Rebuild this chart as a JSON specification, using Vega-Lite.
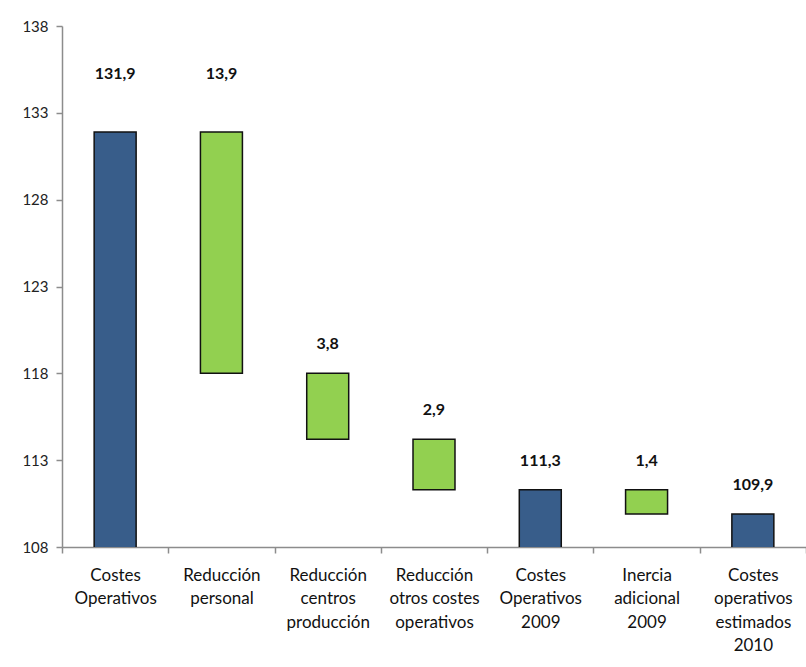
{
  "$schema": "https://vega.github.io/schema/vega-lite/v6.json",
  "width": 744,
  "height": 521,
  "autosize": {"type": "none"},
  "padding": {"left": 62, "top": 26, "right": 0, "bottom": 120},
  "background": "white",
  "config": {
    "view": {"stroke": null},
    "font": "Lato",
    "locale": {"number": {"decimal": ",", "thousands": ".", "grouping": [3], "currency": ["", " €"]}}
  },
  "data": {
    "values": [
      {"cat": "Costes Operativos", "low": 0, "high": 131.9, "amount": 131.9, "kind": "total"},
      {"cat": "Reducción personal", "low": 118.0, "high": 131.9, "amount": 13.9, "kind": "change"},
      {"cat": "Reducción centros producción", "low": 114.2, "high": 118.0, "amount": 3.8, "kind": "change"},
      {"cat": "Reducción otros costes operativos", "low": 111.3, "high": 114.2, "amount": 2.9, "kind": "change"},
      {"cat": "Costes Operativos 2009", "low": 0, "high": 111.3, "amount": 111.3, "kind": "total"},
      {"cat": "Inercia adicional 2009", "low": 109.9, "high": 111.3, "amount": 1.4, "kind": "change"},
      {"cat": "Costes operativos estimados 2010", "low": 0, "high": 109.9, "amount": 109.9, "kind": "total"}
    ]
  },
  "encoding": {
    "x": {
      "field": "cat",
      "type": "nominal",
      "sort": null,
      "scale": {"paddingInner": 0, "paddingOuter": 0},
      "axis": {
        "title": null,
        "labelAngle": 0,
        "labelFont": "Lato",
        "labelFontSize": 17,
        "labelColor": "#111111",
        "labelLineHeight": 23.5,
        "labelPadding": 14,
        "labelBaseline": "top",
        "labelExpr": "datum.value == null ? '' : (datum.value == 'Reducción otros costes operativos' ? ['Reducción', 'otros costes', 'operativos'] : split(datum.value, ' '))",
        "tickBand": "extent",
        "tickSize": 6,
        "tickColor": "#8c8c8c",
        "tickWidth": 1.5,
        "domainColor": "#8c8c8c",
        "domainWidth": 1.5,
        "labelLimit": 200
      }
    }
  },
  "layer": [
    {
      "mark": {"type": "bar", "clip": true, "stroke": "#111111", "strokeWidth": 1.5, "width": {"band": 0.395}},
      "encoding": {
        "y": {
          "field": "low",
          "type": "quantitative",
          "scale": {"domain": [108, 138], "nice": false, "zero": false},
          "axis": {
            "title": null,
            "values": [108, 113, 118, 123, 128, 133, 138],
            "grid": false,
            "labelFont": "Lato",
            "labelFontSize": 15,
            "labelColor": "#222222",
            "labelPadding": 8,
            "tickSize": 6,
            "tickColor": "#8c8c8c",
            "tickWidth": 1.5,
            "domainColor": "#8c8c8c",
            "domainWidth": 1.5
          }
        },
        "y2": {"field": "high"},
        "color": {
          "field": "kind",
          "type": "nominal",
          "scale": {"domain": ["total", "change"], "range": ["#385D8A", "#92D050"]},
          "legend": null
        }
      }
    },
    {
      "transform": [{"filter": "datum.high > 130"}],
      "mark": {"type": "text", "fontWeight": "bold", "fontSize": 16, "font": "Lato", "color": "#111111", "baseline": "middle", "dy": -58},
      "encoding": {
        "y": {"field": "high", "type": "quantitative"},
        "text": {"field": "amount", "type": "quantitative", "format": ".1f"}
      }
    },
    {
      "transform": [{"filter": "datum.high <= 130"}],
      "mark": {"type": "text", "fontWeight": "bold", "fontSize": 16, "font": "Lato", "color": "#111111", "baseline": "middle", "dy": -29},
      "encoding": {
        "y": {"field": "high", "type": "quantitative"},
        "text": {"field": "amount", "type": "quantitative", "format": ".1f"}
      }
    }
  ]
}
